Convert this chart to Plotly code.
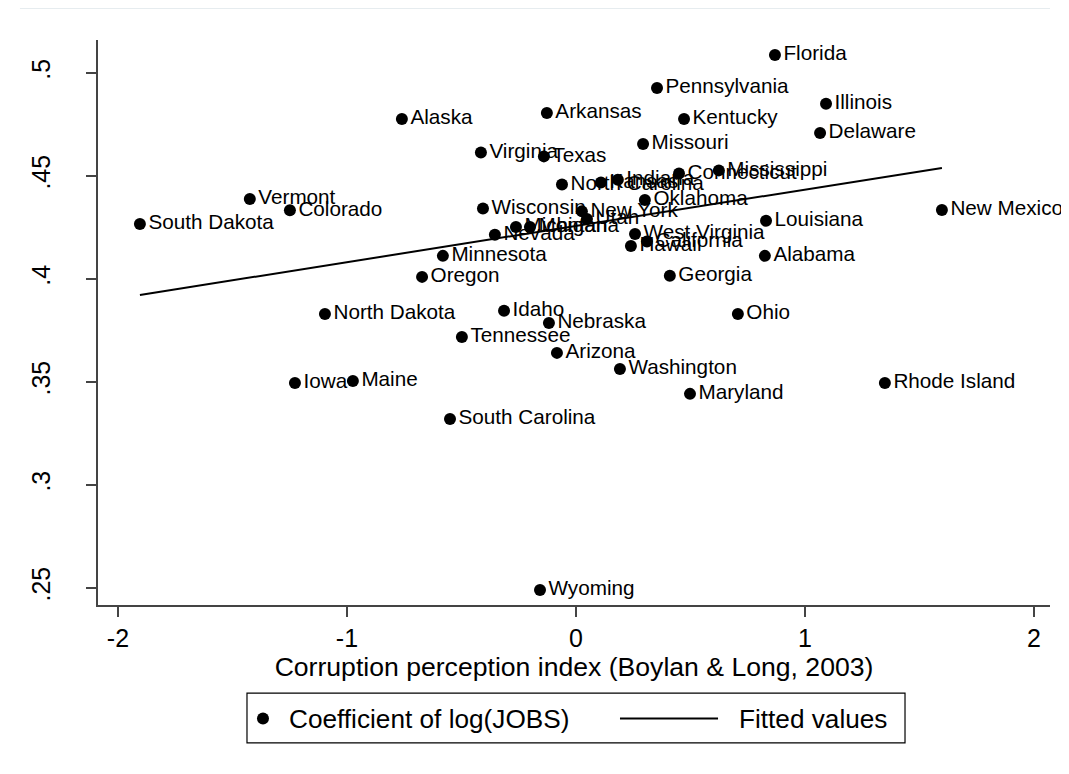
import plotly.graph_objects as go

states = ["Florida", "Pennsylvania", "Illinois", "Arkansas", "Alaska", "Kentucky", "Delaware",
          "Missouri", "Virginia", "Texas", "Mississippi", "Connecticut", "Indiana", "Kansas",
          "North Carolina", "Vermont", "Oklahoma", "Wisconsin", "Colorado", "New Mexico",
          "New York", "Utah", "Louisiana", "South Dakota", "Michigan", "Montana", "West Virginia",
          "Nevada", "California", "Hawaii", "Alabama", "Minnesota", "Oregon", "Georgia", "Idaho",
          "North Dakota", "Ohio", "Nebraska", "Tennessee", "Washington", "Arizona", "Iowa",
          "Maine", "Rhode Island", "Maryland", "South Carolina", "Wyoming"]
corruption = [0.869, 0.354, 1.092, -0.127, -0.760, 0.472, 1.066,
              0.293, -0.415, -0.140, 0.624, 0.450, 0.183, 0.109,
              -0.061, -1.424, 0.301, -0.406, -1.249, 1.598,
              0.026, 0.048, 0.830, -1.904, -0.262, -0.201, 0.258,
              -0.354, 0.310, 0.240, 0.825, -0.581, -0.672, 0.410, -0.314,
              -1.096, 0.707, -0.118, -0.498, 0.192, -0.083, -1.227,
              -0.974, 1.349, 0.498, -0.550, -0.157]
coef_jobs = [0.5087, 0.4927, 0.4850, 0.4806, 0.4777, 0.4777, 0.4709,
             0.4655, 0.4614, 0.4595, 0.4527, 0.4512, 0.4481, 0.4468,
             0.4459, 0.4388, 0.4383, 0.4342, 0.4333, 0.4335,
             0.4328, 0.4291, 0.4282, 0.4267, 0.4252, 0.4252, 0.4218,
             0.4214, 0.4182, 0.4160, 0.4112, 0.4112, 0.4010, 0.4015, 0.3845,
             0.3830, 0.3830, 0.3786, 0.3718, 0.3563, 0.3641, 0.3495,
             0.3505, 0.3495, 0.3442, 0.3320, 0.2490]

fit_x = [-1.904, 1.598]
fit_y = [0.3922, 0.4539]

x_ticks = [-2, -1, 0, 1, 2]
x_tick_labels = ["-2", "-1", "0", "1", "2"]
y_ticks = [0.25, 0.30, 0.35, 0.40, 0.45, 0.50]
y_tick_labels = [".25", ".3", ".35", ".4", ".45", ".5"]

legend_labels = ["Coefficient of log(JOBS)", "Fitted values"]

FONT = "Liberation Sans, Arial, sans-serif"
AXC = "#444444"

fig = go.Figure()
fig.add_trace(go.Scatter(
    x=corruption, y=coef_jobs, mode="markers+text", text=states,
    textposition="middle right", textfont=dict(size=20.7, color="black", family=FONT),
    marker=dict(color="black", size=12, line=dict(width=0)),
    name=legend_labels[0], cliponaxis=False, showlegend=False))
fig.add_trace(go.Scatter(
    x=fit_x, y=fit_y, mode="lines", line=dict(color="black", width=2),
    name=legend_labels[1], showlegend=False))

# custom Stata-style legend (paper coordinates)
shapes = [
    dict(type="line", xref="paper", yref="paper", x0=-0.082, x1=1.0,
         y0=1.056, y1=1.056, line=dict(color="#e6ecef", width=1.5)),
    dict(type="rect", xref="paper", yref="paper", x0=0.1565, x1=0.8477,
         y0=-0.2442, y1=-0.1558, line=dict(color="black", width=1.2), fillcolor="white"),
    dict(type="circle", xref="paper", yref="paper", xsizemode="pixel", ysizemode="pixel",
         xanchor=0.1733, yanchor=-0.2009, x0=-6, x1=6, y0=-6, y1=6,
         fillcolor="black", line=dict(width=0)),
    dict(type="line", xref="paper", yref="paper", x0=0.5483, x1=0.6513,
         y0=-0.2009, y1=-0.2009, line=dict(color="black", width=2)),
]
annotations = [
    dict(xref="paper", yref="paper", x=0.1985, y=-0.2009, xanchor="left", yanchor="middle",
         text=legend_labels[0], showarrow=False, font=dict(size=26.2, family=FONT, color="black")),
    dict(xref="paper", yref="paper", x=0.6712, y=-0.2009, xanchor="left", yanchor="middle",
         text=legend_labels[1], showarrow=False, font=dict(size=26.2, family=FONT, color="black")),
]

fig.update_layout(
    width=1069, height=774,
    paper_bgcolor="white", plot_bgcolor="white",
    margin=dict(l=90, r=27, t=32, b=177),
    font=dict(family=FONT, color="black", size=18),
    showlegend=False,
    xaxis=dict(range=[-2.087, 2.07], tickvals=x_ticks, ticktext=x_tick_labels,
               showgrid=False, zeroline=False, showline=True, linecolor=AXC, linewidth=1.5,
               ticks="outside", ticklen=10, tickcolor=AXC, tickwidth=1.5,
               tickfont=dict(size=25),
               title=dict(text="Corruption perception index (Boylan & Long, 2003)",
                          font=dict(size=26.6), standoff=3)),
    yaxis=dict(range=[0.2417, 0.516], tickvals=y_ticks, ticktext=y_tick_labels,
               showgrid=False, zeroline=False, showline=True, linecolor=AXC, linewidth=1.5,
               ticks="outside", ticklen=10, tickcolor=AXC, tickwidth=1.5,
               tickangle=-90, tickfont=dict(size=25), ticklabelstandoff=26),
    shapes=shapes,
    annotations=annotations,
)

fig.write_html("out.html")
